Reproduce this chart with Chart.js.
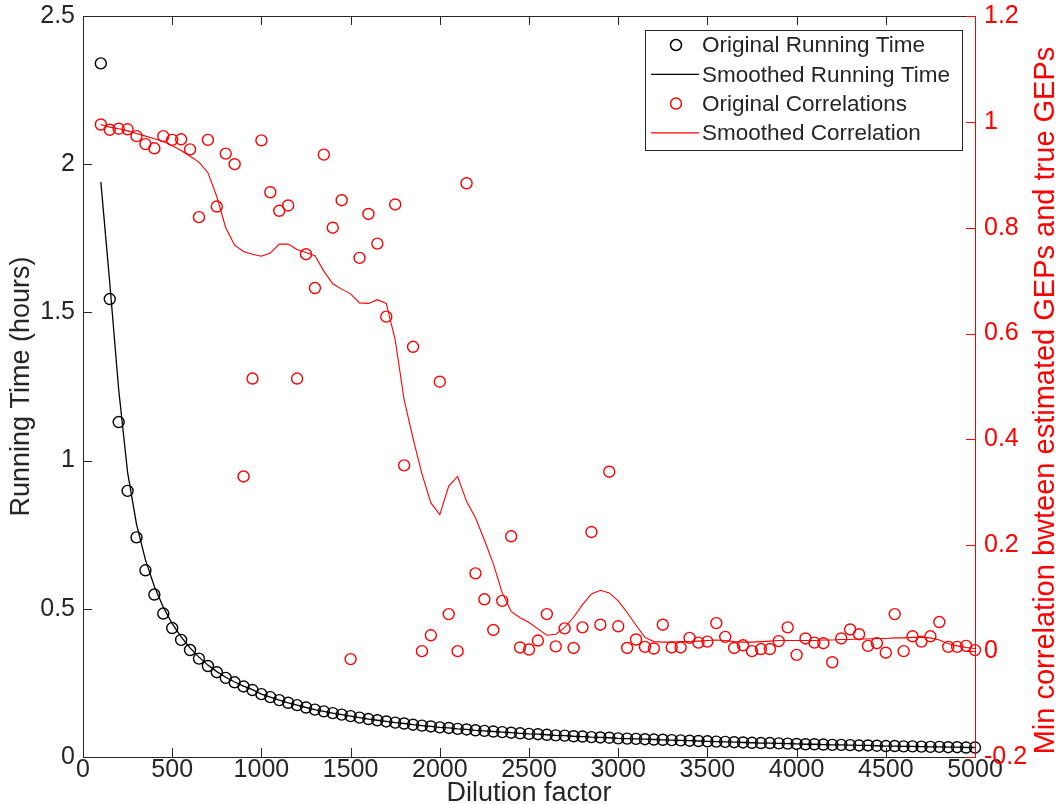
<!DOCTYPE html>
<html>
<head>
<meta charset="utf-8">
<script src="https://cdn.jsdelivr.net/npm/chart.js@4.4.1/dist/chart.umd.min.js"></script>
<style>
  body { margin: 0; background: #fff; }
  #myChart { display: block; }
</style>
</head>
<body>
<canvas id="myChart" width="1063" height="804" style="width:1063px;height:804px"></canvas>
<script>
// dilution factors (x)
const dilution = [100,150,200,250,300,350,400,450,500,550,600,650,700,750,800,850,900,950,
  1000,1050,1100,1150,1200,1250,1300,1350,1400,1450,1500,1550,1600,1650,1700,1750,1800,1850,1900,1950,
  2000,2050,2100,2150,2200,2250,2300,2350,2400,2450,2500,2550,2600,2650,2700,2750,2800,2850,2900,2950,
  3000,3050,3100,3150,3200,3250,3300,3350,3400,3450,3500,3550,3600,3650,3700,3750,3800,3850,3900,3950,
  4000,4050,4100,4150,4200,4250,4300,4350,4400,4450,4500,4550,4600,4650,4700,4750,4800,4850,4900,4950,5000];

// running time in hours (left axis)
const runTime = [2.34,1.545,1.13,0.898,0.741,0.63,0.548,0.484,0.435,0.395,0.361,0.332,0.307,0.286,0.267,0.252,0.238,0.226,
  0.212,0.202,0.192,0.183,0.175,0.167,0.160,0.154,0.148,0.143,
  0.138,0.133,0.128,0.124,0.120,0.116,0.113,0.109,0.106,0.103,
  0.100,0.098,0.095,0.093,0.090,0.088,0.086,0.084,0.082,0.080,
  0.078,0.077,0.075,0.073,0.072,0.070,0.069,0.067,0.066,0.065,
  0.063,0.062,0.061,0.060,0.059,0.058,0.057,0.056,0.055,0.054,
  0.053,0.052,0.051,0.050,0.049,0.048,0.047,0.047,0.046,0.045,
  0.044,0.043,0.043,0.042,0.041,0.041,0.040,0.039,0.039,0.038,
  0.037,0.037,0.036,0.036,0.035,0.034,0.034,0.033,0.033,0.032,
  0.032];

const runSmooth = [1.94,1.60,1.24,0.96,0.785,0.665,0.575,0.505,0.45,0.405,0.368,0.337,0.31,0.288,0.269,0.253,0.239,0.227,
  0.212,0.202,0.192,0.183,0.175,0.167,0.160,0.154,0.148,0.143,
  0.138,0.133,0.128,0.124,0.120,0.116,0.113,0.109,0.106,0.103,
  0.100,0.098,0.095,0.093,0.090,0.088,0.086,0.084,0.082,0.080,
  0.078,0.077,0.075,0.073,0.072,0.070,0.069,0.067,0.066,0.065,
  0.063,0.062,0.061,0.060,0.059,0.058,0.057,0.056,0.055,0.054,
  0.053,0.052,0.051,0.050,0.049,0.048,0.047,0.047,0.046,0.045,
  0.044,0.043,0.043,0.042,0.041,0.041,0.040,0.039,0.039,0.038,
  0.037,0.037,0.036,0.036,0.035,0.034,0.034,0.033,0.033,0.032,
  0.032];

// min correlation (right axis)
const corr = [0.995,0.985,0.987,0.986,0.973,0.958,0.95,0.973,0.966,0.967,0.948,0.82,0.966,0.84,0.94,0.92,0.33,0.515,
  0.965,0.867,0.832,0.842,0.515,0.75,0.686,0.938,0.80,0.852,
  -0.015,0.743,0.826,0.77,0.632,0.844,0.351,0.575,0.0,0.03,
  0.509,0.07,0.0,0.884,0.147,0.098,0.04,0.095,0.217,0.007,
  0.003,0.02,0.07,0.009,0.043,0.006,0.045,0.225,0.05,0.339,
  0.047,0.006,0.022,0.008,0.005,0.05,0.007,0.007,0.025,0.016,
  0.018,0.053,0.027,0.006,0.011,0.0,0.004,0.004,0.019,0.045,
  -0.007,0.024,0.016,0.015,-0.021,0.024,0.041,0.032,0.01,0.015,
  -0.003,0.07,0.0,0.028,0.018,0.028,0.055,0.008,0.008,0.01,
  0.002];

const corrSmooth = [0.995,0.99,0.987,0.983,0.978,0.973,0.968,0.963,0.955,0.946,0.935,0.924,0.904,0.859,0.80,0.767,0.755,0.75,
  0.746,0.752,0.769,0.769,0.759,0.753,0.747,0.718,0.694,0.684,
  0.675,0.658,0.657,0.664,0.657,0.588,0.475,0.402,0.335,0.28,
  0.258,0.312,0.33,0.283,0.252,0.21,0.165,0.11,0.075,0.063,
  0.054,0.042,0.03,0.032,0.045,0.064,0.088,0.108,0.115,0.11,
  0.095,0.073,0.049,0.026,0.018,0.017,0.017,0.018,0.018,0.019,
  0.02,0.021,0.02,0.018,0.017,0.017,0.018,0.019,0.02,0.02,
  0.02,0.02,0.02,0.021,0.021,0.022,0.022,0.023,0.023,0.024,
  0.024,0.025,0.025,0.026,0.026,0.025,0.021,0.014,0.01,0.007,
  0.005];

const FONT = '"Liberation Sans", Arial, Helvetica, sans-serif';
const AXIS = '#262626';
const RED = '#ff0000';

const pts = (ys) => dilution.map((x, i) => ({ x: x, y: ys[i] }));
const fmt = (v) => String(+(+v).toFixed(2));

// box, inward ticks, titles and legend (MATLAB style)
const matlabDecor = {
  id: 'matlabDecor',
  afterDraw(chart) {
    const c = chart.ctx, a = chart.chartArea;
    const sx = chart.scales.x, sy = chart.scales.y, sy2 = chart.scales.y2;
    const L = 9;
    c.save();
    c.lineWidth = 1;
    c.strokeStyle = AXIS;
    c.beginPath();
    c.moveTo(a.left + 0.5, a.top + 0.5); c.lineTo(a.left + 0.5, a.bottom + 0.5);
    c.lineTo(a.right, a.bottom + 0.5);
    c.moveTo(a.left, a.top + 0.5); c.lineTo(a.right, a.top + 0.5);
    sx.ticks.forEach(t => {
      const px = Math.round(sx.getPixelForValue(t.value)) + 0.5;
      c.moveTo(px, a.bottom); c.lineTo(px, a.bottom - L);
      c.moveTo(px, a.top); c.lineTo(px, a.top + L);
    });
    sy.ticks.forEach(t => {
      const py = Math.round(sy.getPixelForValue(t.value)) + 0.5;
      c.moveTo(a.left, py); c.lineTo(a.left + L, py);
    });
    c.stroke();
    c.strokeStyle = RED;
    c.beginPath();
    c.moveTo(a.right + 0.5, a.top); c.lineTo(a.right + 0.5, a.bottom + 1);
    sy2.ticks.forEach(t => {
      const py = Math.round(sy2.getPixelForValue(t.value)) + 0.5;
      c.moveTo(a.right, py); c.lineTo(a.right - L, py);
    });
    c.stroke();

    // axis titles
    const midY = (a.top + a.bottom) / 2;
    c.font = '27px ' + FONT;
    c.textAlign = 'center';
    c.textBaseline = 'alphabetic';
    c.fillStyle = AXIS;
    c.fillText('Dilution factor', (a.left + a.right) / 2, 801);
    c.textBaseline = 'middle';
    c.save();
    c.translate(22, midY); c.rotate(-Math.PI / 2);
    c.fillText('Running Time (hours)', 0, 0);
    c.restore();
    c.save();
    c.fillStyle = RED;
    c.font = '29px ' + FONT;
    c.translate(1046, midY + 14); c.rotate(-Math.PI / 2);
    c.fillText('Min correlation bwteen estimated GEPs and true GEPs', 0, 0);
    c.restore();

    // legend
    const bx = 645.5, by = 30.5, bw = 317, bh = 120;
    c.fillStyle = '#fff';
    c.fillRect(bx, by, bw, bh);
    c.strokeStyle = AXIS;
    c.strokeRect(bx, by, bw, bh);
    c.font = '22.5px ' + FONT;
    c.textAlign = 'left';
    chart.data.datasets.forEach((ds, i) => {
      const y = 45 + i * 29.3;
      c.strokeStyle = ds.borderColor;
      if (ds.showLine === false) {
        c.lineWidth = 1.5;
        c.beginPath(); c.arc(676, y, 5.5, 0, Math.PI * 2); c.stroke();
      } else {
        c.lineWidth = ds.borderWidth;
        c.beginPath(); c.moveTo(651, y); c.lineTo(699, y); c.stroke();
      }
      c.fillStyle = AXIS;
      c.fillText(ds.label, 702, y + 1);
    });
    c.restore();
  }
};

const tickFont = { family: FONT, size: 25, lineHeight: 1 };

new Chart(document.getElementById('myChart').getContext('2d'), {
  type: 'scatter',
  data: {
    datasets: [
      { label: 'Original Running Time', data: pts(runTime), yAxisID: 'y', showLine: false,
        borderColor: '#000', backgroundColor: 'rgba(0,0,0,0)', pointRadius: 5.5, pointBorderWidth: 1.4, order: 4, clip: false },
      { label: 'Smoothed Running Time', data: pts(runSmooth), yAxisID: 'y', showLine: true,
        borderColor: '#000', borderWidth: 1.3, pointRadius: 0, order: 3, clip: false },
      { label: 'Original Correlations', data: pts(corr), yAxisID: 'y2', showLine: false,
        borderColor: RED, backgroundColor: 'rgba(0,0,0,0)', pointRadius: 5.5, pointBorderWidth: 1.4, order: 2, clip: false },
      { label: 'Smoothed Correlation', data: pts(corrSmooth), yAxisID: 'y2', showLine: true,
        borderColor: RED, borderWidth: 1.1, pointRadius: 0, order: 1, clip: false }
    ]
  },
  options: {
    responsive: false,
    animation: false,
    events: [],
    layout: { padding: { top: 16, left: 0, right: 0, bottom: 0 } },
    plugins: { legend: { display: false }, tooltip: { enabled: false } },
    scales: {
      x: {
        type: 'linear', min: 0, max: 5000,
        grid: { display: false, drawTicks: false }, border: { display: false },
        ticks: { stepSize: 500, autoSkip: false, padding: 1, color: AXIS, font: tickFont, maxRotation: 0, callback: fmt },
        afterFit: s => { s.height = 47; s.paddingLeft = 0; s.paddingRight = 0; }
      },
      y: {
        position: 'left', min: 0, max: 2.5,
        grid: { display: false, drawTicks: false }, border: { display: false },
        ticks: { stepSize: 0.5, padding: 8, color: AXIS, font: tickFont, callback: fmt },
        afterFit: s => { s.width = 83; s.paddingTop = 0; s.paddingBottom = 0; }
      },
      y2: {
        position: 'right', min: -0.2, max: 1.2,
        grid: { display: false, drawTicks: false }, border: { display: false },
        ticks: { stepSize: 0.2, padding: 9, color: RED, font: tickFont, callback: fmt },
        afterFit: s => { s.width = 88; s.paddingTop = 0; s.paddingBottom = 0; }
      }
    }
  },
  plugins: [matlabDecor]
});
</script>
</body>
</html>
